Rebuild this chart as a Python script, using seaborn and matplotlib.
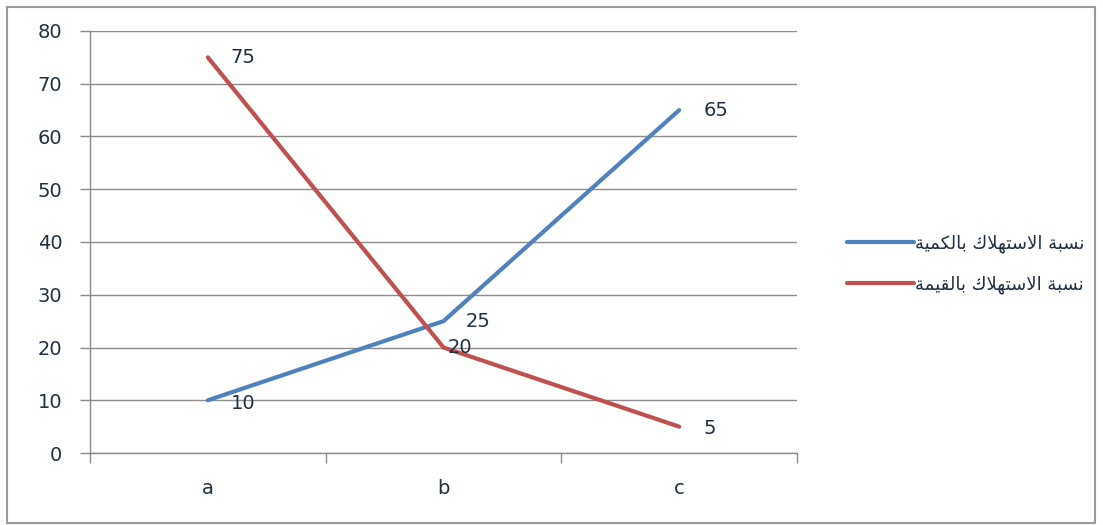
import matplotlib
matplotlib.use("Agg")
import matplotlib.pyplot as plt
import pandas as pd
import seaborn as sns
from matplotlib.patches import Rectangle

# data
categories = ["a", "b", "c"]
qty_share = [10, 25, 65]
value_share = [75, 20, 5]
series_names = ["نسبة الاستهلاك بالكمية", "نسبة الاستهلاك بالقيمة"]

# (isolated, final, initial, medial) presentation forms for the letters used
FORMS = {
    "ا": ("\uFE8D", "\uFE8E", None, None),
    "ب": ("\uFE8F", "\uFE90", "\uFE91", "\uFE92"),
    "ة": ("\uFE93", "\uFE94", None, None),
    "ت": ("\uFE95", "\uFE96", "\uFE97", "\uFE98"),
    "س": ("\uFEB1", "\uFEB2", "\uFEB3", "\uFEB4"),
    "ق": ("\uFED5", "\uFED6", "\uFED7", "\uFED8"),
    "ك": ("\uFED9", "\uFEDA", "\uFEDB", "\uFEDC"),
    "ل": ("\uFEDD", "\uFEDE", "\uFEDF", "\uFEE0"),
    "م": ("\uFEE1", "\uFEE2", "\uFEE3", "\uFEE4"),
    "ن": ("\uFEE5", "\uFEE6", "\uFEE7", "\uFEE8"),
    "ه": ("\uFEE9", "\uFEEA", "\uFEEB", "\uFEEC"),
    "ي": ("\uFEF1", "\uFEF2", "\uFEF3", "\uFEF4"),
    "لا": ("\uFEFB", "\uFEFC", None, None),
}


def shape_arabic(text):
    # matplotlib has no arabic shaping, so do a tiny one by hand
    chars = []
    i = 0
    while i < len(text):
        if text[i:i + 2] == "لا":
            chars.append("لا")
            i += 2
        else:
            chars.append(text[i])
            i += 1
    out = []
    for k, ch in enumerate(chars):
        if ch not in FORMS:
            out.append(ch)
            continue
        prev = chars[k - 1] if k > 0 else None
        nxt = chars[k + 1] if k + 1 < len(chars) else None
        joins_prev = prev in FORMS and FORMS[prev][2] is not None
        joins_next = FORMS[ch][2] is not None and nxt in FORMS
        iso, fin, ini, med = FORMS[ch]
        if joins_prev and joins_next:
            out.append(med)
        elif joins_prev:
            out.append(fin)
        elif joins_next:
            out.append(ini)
        else:
            out.append(iso)
    return "".join(out)[::-1]


df = pd.DataFrame({
    "cat": categories * 2,
    "val": qty_share + value_share,
    "series": [series_names[0]] * 3 + [series_names[1]] * 3,
})

sns.set_style("white")
plt.rcParams["font.family"] = ["DejaVu Sans"]

fig = plt.figure(figsize=(11.03, 5.25), dpi=100)
ax = fig.add_axes([0.0816, 0.1371, 0.6410, 0.8039])

palette = {series_names[0]: "#4F81BD", series_names[1]: "#C0504D"}
sns.lineplot(data=df, x="cat", y="val", hue="series", palette=palette,
             linewidth=3, sort=False, ax=ax)

text_color = "#1F3044"
label_offsets = {
    (0, 10): (23, -3), (1, 25): (22, 0), (2, 65): (24, 0),
    (0, 75): (23, 0), (1, 20): (4, 0), (2, 5): (24, -2),
}
for series in (qty_share, value_share):
    for xi, v in enumerate(series):
        dx, dy = label_offsets[(xi, v)]
        ax.annotate(str(v), (xi, v), xytext=(dx * 0.72, dy * 0.72),
                    textcoords="offset points", ha="left", va="center",
                    fontsize=14, color=text_color)

ax.set_xlim(-0.5, 2.5)
ax.set_ylim(0, 80)
ax.set_yticks(range(0, 81, 10))
ax.set_xticks([-0.5, 0.5, 1.5, 2.5])
ax.set_xticklabels([])
ax.set_xticks([0, 1, 2], minor=True)
ax.set_xticklabels(categories, minor=True)
ax.tick_params(axis="x", which="major", bottom=True, length=7, width=1,
               color="#8C8C8C", direction="out")
ax.tick_params(axis="x", which="minor", bottom=True, length=0, pad=19,
               labelsize=14, labelcolor=text_color)
ax.tick_params(axis="y", left=True, length=7, width=1, color="#8C8C8C",
               direction="out", pad=13, labelsize=14, labelcolor=text_color)
ax.yaxis.grid(True, color="#8C8C8C", linewidth=1)
ax.set_axisbelow(True)
for side in ("top", "right"):
    ax.spines[side].set_visible(False)
for side in ("left", "bottom"):
    ax.spines[side].set_color("#8C8C8C")
    ax.spines[side].set_linewidth(1)
ax.set_xlabel("")
ax.set_ylabel("")

handles, labels = ax.get_legend_handles_labels()
ax.legend(handles, [shape_arabic(l) for l in labels], loc="center left",
          bbox_to_anchor=(1.048, 0.447), frameon=False, fontsize=13,
          handlelength=3.7, labelspacing=1.25, handletextpad=0.05,
          labelcolor=text_color)

fig.patches.append(Rectangle((7 / 1103, 2 / 525), 1088 / 1103, 516 / 525,
                             transform=fig.transFigure, fill=False,
                             edgecolor="#9A9A9A", linewidth=1.5))

fig.savefig("out.png", dpi=100)
